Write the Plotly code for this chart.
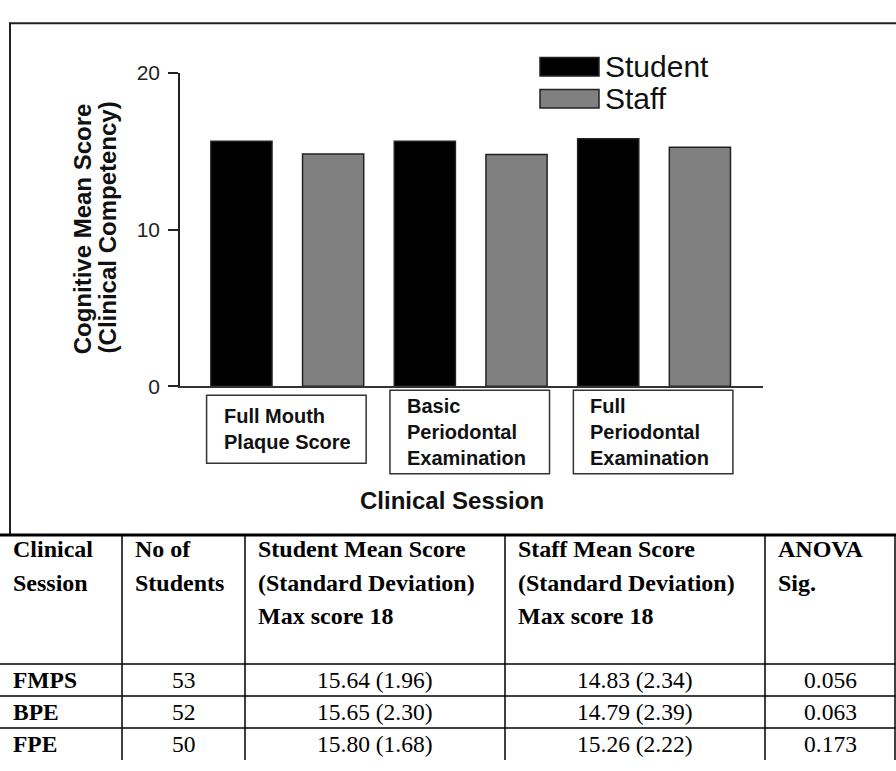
import plotly.graph_objects as go

# ---------------- data ----------------
session_codes = ["FMPS", "BPE", "FPE"]
session_labels = ["Full Mouth<br>Plaque Score",
                  "Basic<br>Periodontal<br>Examination",
                  "Full<br>Periodontal<br>Examination"]
student_mean = [15.64, 15.65, 15.80]
staff_mean = [14.83, 14.79, 15.26]
student_sd = [1.96, 2.30, 1.68]
staff_sd = [2.34, 2.39, 2.22]
n_students = [53, 52, 50]
anova_sig = ["0.056", "0.063", "0.173"]
y_ticks = [0, 10, 20]

table_header = [
    ["Clinical", "Session"],
    ["No of", "Students"],
    ["Student Mean Score", "(Standard Deviation)", "Max score 18"],
    ["Staff Mean Score", "(Standard Deviation)", "Max score 18"],
    ["ANOVA", "Sig."],
]

W, H = 896, 771
SANS = "Liberation Sans, Arial, Helvetica, sans-serif"
SERIF = "Liberation Serif, Times New Roman, serif"


def px(x):
    return x / W


def py(y):
    return 1 - y / H


xi = list(range(len(session_codes)))

fig = go.Figure()
fig.add_trace(go.Bar(
    x=xi, y=student_mean, name="Student",
    marker=dict(color="#000000", line=dict(color="#222222", width=1.5)),
    showlegend=False, hoverinfo="y"))
fig.add_trace(go.Bar(
    x=xi, y=staff_mean, name="Staff",
    marker=dict(color="#808080", line=dict(color="#222222", width=1.5)),
    showlegend=False, hoverinfo="y"))

shapes = []
annotations = []

# chart frame (left + top borders)
shapes.append(dict(type="line", xref="paper", yref="paper",
                   x0=px(10), x1=px(10), y0=py(11), y1=py(539),
                   line=dict(color="#222222", width=2)))
shapes.append(dict(type="line", xref="paper", yref="paper",
                   x0=px(9), x1=px(896), y0=py(11.5), y1=py(11.5),
                   line=dict(color="#222222", width=2)))

# boxed category labels
box_tops = [395, 390, 390]
box_bots = [465, 476, 476]
for i, lab in enumerate(session_labels):
    x0 = xi[i] - 0.44
    x1 = xi[i] + 0.43
    shapes.append(dict(type="rect", xref="x", yref="paper",
                       x0=x0, x1=x1, y0=py(box_bots[i]), y1=py(box_tops[i]),
                       line=dict(color="#333333", width=1.5),
                       fillcolor="white"))
    annotations.append(dict(xref="x", yref="paper", x=x0, xshift=15,
                            y=py((box_tops[i] + box_bots[i]) / 2),
                            xanchor="left", yanchor="middle", align="left",
                            text="<b>" + lab + "</b>", showarrow=False,
                            font=dict(family=SANS, size=20, color="#111111")))

# legend swatches
legend_items = [("Student", "#000000", 47, 66), ("Staff", "#808080", 80, 99)]
for name, col, t, b in legend_items:
    shapes.append(dict(type="rect", xref="paper", yref="paper",
                       x0=px(540), x1=px(599), y0=py(b), y1=py(t),
                       fillcolor=col, line=dict(color="#222222", width=1.5)))
    annotations.append(dict(xref="paper", yref="paper", x=px(603),
                            y=py((t + b) / 2), xanchor="left", yanchor="middle",
                            text=name, showarrow=False,
                            font=dict(family=SANS, size=30, color="#111111")))

# axis titles
annotations.append(dict(xref="paper", yref="paper", x=px(82), y=py(224),
                        text="<b>Cognitive Mean Score</b>", textangle=-90,
                        showarrow=False, xanchor="center", yanchor="middle",
                        font=dict(family=SANS, size=24, color="#111111")))
annotations.append(dict(xref="paper", yref="paper", x=px(107), y=py(222),
                        text="<b>(Clinical Competency)</b>", textangle=-90,
                        showarrow=False, xanchor="center", yanchor="middle",
                        font=dict(family=SANS, size=24, color="#111111")))
annotations.append(dict(xref="paper", yref="paper", x=px(452), y=py(504),
                        text="<b>Clinical Session</b>", showarrow=False,
                        xanchor="center", yanchor="middle",
                        font=dict(family=SANS, size=24, color="#111111")))

# ---------------- table ----------------
col_edges = [0, 122, 245, 505, 765, 895]
tbl_top = 539
row_lines = [672, 705, 738, 771]
shapes.append(dict(type="line", xref="paper", yref="paper",
                   x0=0, x1=1, y0=py(tbl_top), y1=py(tbl_top),
                   line=dict(color="#000000", width=3)))
for xe in col_edges[1:]:
    shapes.append(dict(type="line", xref="paper", yref="paper",
                       x0=px(xe), x1=px(xe), y0=py(tbl_top), y1=py(771),
                       line=dict(color="#000000", width=1.5)))
for yl in row_lines[:-1]:
    shapes.append(dict(type="line", xref="paper", yref="paper",
                       x0=0, x1=px(895.5), y0=py(yl), y1=py(yl),
                       line=dict(color="#000000", width=1.5)))

hdr_line_y = [554, 588.5, 623]
for c, lines in enumerate(table_header):
    for k, ln in enumerate(lines):
        annotations.append(dict(xref="paper", yref="paper",
                                x=px(col_edges[c] + 11), y=py(hdr_line_y[k]),
                                xanchor="left", yanchor="middle",
                                text="<b>" + ln + "</b>", showarrow=False,
                                font=dict(family=SERIF, size=24, color="#000000")))

for r in range(len(session_codes)):
    yc = py((row_lines[r] + row_lines[r + 1]) / 2)
    cells = [
        "<b>" + session_codes[r] + "</b>",
        str(n_students[r]),
        f"{student_mean[r]:.2f} ({student_sd[r]:.2f})",
        f"{staff_mean[r]:.2f} ({staff_sd[r]:.2f})",
        anova_sig[r],
    ]
    for c, txt in enumerate(cells):
        if c == 0:
            annotations.append(dict(xref="paper", yref="paper",
                                    x=px(col_edges[0] + 11), y=yc,
                                    xanchor="left", yanchor="middle",
                                    text=txt, showarrow=False,
                                    font=dict(family=SERIF, size=23.5, color="#000000")))
        else:
            annotations.append(dict(xref="paper", yref="paper",
                                    x=px((col_edges[c] + col_edges[c + 1]) / 2), y=yc,
                                    xanchor="center", yanchor="middle",
                                    text=txt, showarrow=False,
                                    font=dict(family=SERIF, size=23.5, color="#000000")))

fig.update_layout(
    width=W, height=H,
    margin=dict(l=0, r=0, t=0, b=0),
    paper_bgcolor="white", plot_bgcolor="white",
    barmode="group", bargap=0, bargroupgap=0.333,
    showlegend=False,
    xaxis=dict(domain=[px(180), px(763)], range=[-0.585, 2.594],
               showline=True, linecolor="#333333", linewidth=2,
               showticklabels=False, ticks="", showgrid=False, zeroline=False),
    yaxis=dict(domain=[py(385.7), py(62.9)], range=[0, 20],
               tickvals=y_ticks, ticktext=[str(v) for v in y_ticks],
               showline=True, linecolor="#222222", linewidth=1.5,
               ticks="outside", ticklen=10, tickwidth=1.5, tickcolor="#222222",
               ticklabelstandoff=4,
               tickfont=dict(family=SANS, size=21, color="#222222"),
               showgrid=False, zeroline=False),
    shapes=shapes,
    annotations=annotations,
)

fig.write_html("out.html",
               config={"displayModeBar": False},
               post_script="document.body.style.margin='0';document.body.style.overflow='hidden';")
